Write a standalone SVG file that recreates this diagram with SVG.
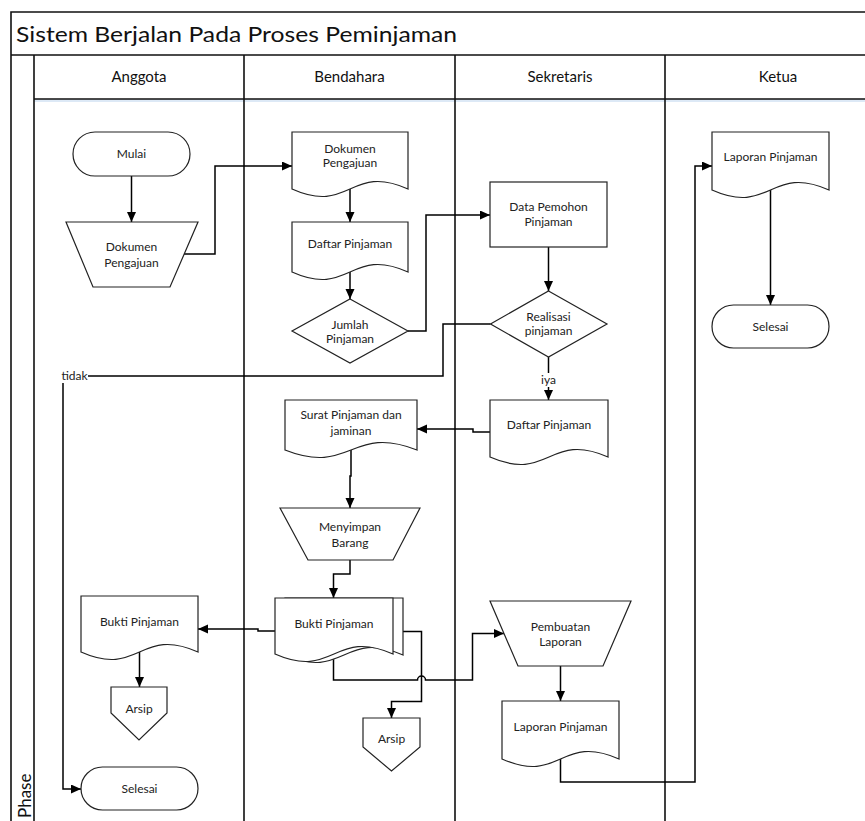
<svg xmlns="http://www.w3.org/2000/svg" width="865" height="821" viewBox="0 0 865 821">
<defs>
<marker id="arr" markerUnits="userSpaceOnUse" markerWidth="11" markerHeight="10" refX="10" refY="4.5" orient="auto">
<path d="M0,0 L10,4.5 L0,9 Z" fill="#000"/>
</marker>
</defs>
<style>
.frame{fill:none;stroke:#111;stroke-width:1.6}
.shape{fill:#fff;stroke:#222;stroke-width:1.2}
.conn{fill:none;stroke:#000;stroke-width:1.5;marker-end:url(#arr)}
.t{font-family:Lato,"Liberation Sans",sans-serif;font-size:12px;fill:#222;text-anchor:middle}
.h{font-family:Lato,"Liberation Sans",sans-serif;font-size:15px;fill:#111;text-anchor:middle}
</style>
<rect x="0" y="0" width="865" height="821" fill="#fff"/>
<g id="pool">
<line x1="34" y1="100.5" x2="865" y2="100.5" stroke="#dde9f6" stroke-width="3"/>
<path class="frame" d="M11,821 V12 H865 M11,55 H865 M34,55 V821 M34,99 H865 M244,55 V821 M455,55 V821 M665,55 V821"/>
<text x="16" y="42" font-family="Lato,'Liberation Sans',sans-serif" font-size="22" fill="#111" textLength="441" lengthAdjust="spacingAndGlyphs">Sistem Berjalan Pada Proses Peminjaman</text>
<text class="h" x="139" y="82">Anggota</text>
<text class="h" x="349.5" y="82">Bendahara</text>
<text class="h" x="560" y="82">Sekretaris</text>
<text class="h" x="778" y="82">Ketua</text>
<text transform="translate(31,818) rotate(-90)" font-family="Lato,'Liberation Sans',sans-serif" font-size="17" fill="#111" text-anchor="start">Phase</text>
</g>
<g id="connectors">
<path class="conn" d="M131.5,176 V222"/>
<path class="conn" d="M184,254 H215 V166 H292"/>
<path class="conn" d="M350,189 V222"/>
<path class="conn" d="M350,272 V299"/>
<path class="conn" d="M408,331 H426 V215 H490"/>
<path class="conn" d="M548.5,247 V291"/>
<path class="conn" d="M490.5,324 H443 V376 H63 V789 H81"/>
<path class="conn" d="M548.5,357 V400"/>
<path class="conn" d="M490,432 H473 V429 H417"/>
<path class="conn" d="M351,450 V476 H350 V508"/>
<path class="conn" d="M350,560 V574 H333.5 V598"/>
<path class="conn" d="M275,631 H258 V629 H198"/>
<path class="conn" d="M139.5,652 V687"/>
<path class="conn" d="M403,631.5 H421.5 V701.5 H391.5 V718"/>
<path class="conn" d="M333.5,654 V680 H417.5 A4,4 0 0 1 425.5,680 H472.5 V633.5 H504"/>
<path class="conn" d="M560.5,666 V701"/>
<path class="conn" d="M560.5,759 V782 H695 V166 H712"/>
<path class="conn" d="M770.5,190 V305"/>
<rect x="61" y="369" width="27" height="14" fill="#fff"/>
<text class="t" x="74.5" y="380">tidak</text>
<rect x="539" y="373" width="19" height="14" fill="#fff"/>
<text class="t" x="548.5" y="384">iya</text>
</g>
<g id="mulai">
<rect class="shape" x="73" y="132" width="117" height="44" rx="22"/>
<text class="t" x="131.5" y="158">Mulai</text>
</g>
<g id="dokumen-anggota">
<path class="shape" d="M66,222 H198 L170,287 H93 Z"/>
<text class="t" x="131.5" y="251">Dokumen</text>
<text class="t" x="131.5" y="267">Pengajuan</text>
</g>
<g id="dokumen-bendahara">
<path class="shape" d="M292,132 H408 V189 C350,163 350,215 292,189 Z"/>
<text class="t" x="350" y="153">Dokumen</text>
<text class="t" x="350" y="167">Pengajuan</text>
</g>
<g id="daftar-bendahara">
<path class="shape" d="M292,222 H408 V272 C350,246 350,298 292,272 Z"/>
<text class="t" x="350" y="248">Daftar Pinjaman</text>
</g>
<g id="jumlah">
<path class="shape" d="M350,299 L408,331 L350,363 L292,331 Z"/>
<text class="t" x="350" y="329">Jumlah</text>
<text class="t" x="350" y="343">Pinjaman</text>
</g>
<g id="data-pemohon">
<rect class="shape" x="490" y="182" width="117" height="65"/>
<text class="t" x="548.5" y="211">Data Pemohon</text>
<text class="t" x="548.5" y="226">Pinjaman</text>
</g>
<g id="realisasi">
<path class="shape" d="M548.5,291 L607,324 L548.5,357 L490.5,324 Z"/>
<text class="t" x="548.5" y="321">Realisasi</text>
<text class="t" x="548.5" y="335">pinjaman</text>
</g>
<g id="daftar-sekretaris">
<path class="shape" d="M490,400 H608 V457 C549,431 549,483 490,457 Z"/>
<text class="t" x="549" y="429">Daftar Pinjaman</text>
</g>
<g id="surat">
<path class="shape" d="M285,400 H417 V450 C351,424 351,476 285,450 Z"/>
<text class="t" x="351" y="419">Surat Pinjaman dan</text>
<text class="t" x="351" y="435">jaminan</text>
</g>
<g id="menyimpan">
<path class="shape" d="M280,508 H420 L393,560 H308 Z"/>
<text class="t" x="350" y="531">Menyimpan</text>
<text class="t" x="350" y="547">Barang</text>
</g>
<g id="bukti-bendahara">
<path class="shape" d="M285,598 H403 V655 C344,629 344,681 285,655 Z"/>
<path class="shape" d="M275,598 H393 V654 C334,628 334,680 275,654 Z"/>
<text class="t" x="334" y="628">Bukti Pinjaman</text>
</g>
<g id="bukti-anggota">
<path class="shape" d="M81,596 H198 V652 C139.5,626 139.5,678 81,652 Z"/>
<text class="t" x="139.5" y="626">Bukti Pinjaman</text>
</g>
<g id="arsip-anggota">
<path class="shape" d="M111,687 H167 V713 L139,740 L111,713 Z"/>
<text class="t" x="139" y="713">Arsip</text>
</g>
<g id="arsip-bendahara">
<path class="shape" d="M363,718 H420 V747 L391.5,771 L363,747 Z"/>
<text class="t" x="391.5" y="743">Arsip</text>
</g>
<g id="selesai-anggota">
<rect class="shape" x="81" y="767" width="117" height="43" rx="21.5"/>
<text class="t" x="139.5" y="793">Selesai</text>
</g>
<g id="pembuatan">
<path class="shape" d="M490,601 H631 L603,666 H518 Z"/>
<text class="t" x="560.5" y="631">Pembuatan</text>
<text class="t" x="560.5" y="646">Laporan</text>
</g>
<g id="laporan-sekretaris">
<path class="shape" d="M502,701 H619 V759 C560.5,733 560.5,785 502,759 Z"/>
<text class="t" x="560.5" y="731">Laporan Pinjaman</text>
</g>
<g id="laporan-ketua">
<path class="shape" d="M712,132 H829 V190 C770.5,164 770.5,216 712,190 Z"/>
<text class="t" x="770.5" y="161">Laporan Pinjaman</text>
</g>
<g id="selesai-ketua">
<rect class="shape" x="712" y="305" width="117" height="43" rx="21.5"/>
<text class="t" x="770.5" y="331">Selesai</text>
</g>
</svg>
